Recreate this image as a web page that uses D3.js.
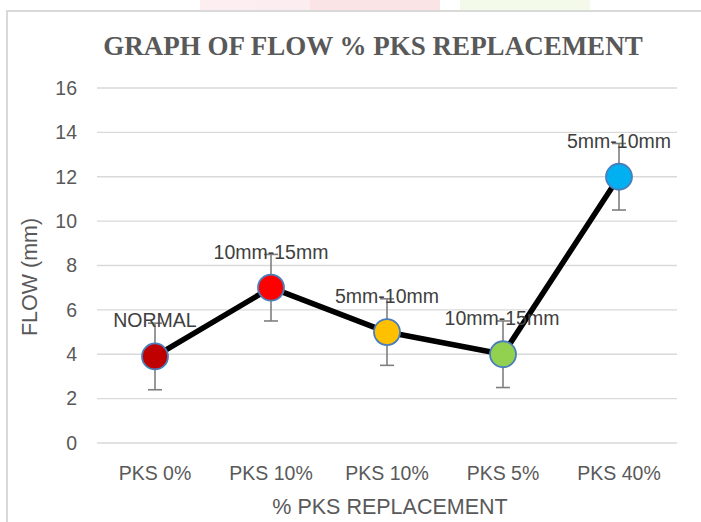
<!DOCTYPE html>
<html>
<head>
<meta charset="utf-8">
<script src="https://cdn.jsdelivr.net/npm/d3@7.9.0/dist/d3.min.js"></script>
<style>
  body { margin: 0; background: #fff; }
  svg { display: block; }
  text { font-family: "Liberation Sans", Arial, sans-serif; }
</style>
</head>
<body>
<svg width="701" height="522"></svg>
<script>
// chart data
const categories = ['PKS 0%', 'PKS 10%', 'PKS 10%', 'PKS 5%', 'PKS 40%'];
const flow = [3.9, 7, 5, 4, 12];
const errPlus = [1.5, 1.5, 1.5, 1.5, 1.5];
const errMinus = [1.5, 1.5, 1.5, 1.5, 1.5];
const pointLabels = ['NORMAL', '10mm-15mm', '5mm-10mm', '10mm-15mm', '5mm-10mm'];
const pointColors = ['#C00000', '#FF0000', '#FFC000', '#92D050', '#00B0F0'];
const yTicks = [0, 2, 4, 6, 8, 10, 12, 14, 16];

const labelFont = '"Liberation Sans", Arial, sans-serif';
const svg = d3.select('svg');

// faint watermark strip above the chart box
const wm = svg.append('g').attr('opacity', 0.3);
wm.append('rect').attr('x', 200).attr('y', 0).attr('width', 110).attr('height', 10).attr('fill', '#f7c9cf');
wm.append('rect').attr('x', 310).attr('y', 0).attr('width', 130).attr('height', 10).attr('fill', '#f2a7ae');
wm.append('rect').attr('x', 460).attr('y', 0).attr('width', 130).attr('height', 10).attr('fill', '#dcefb8');

// chart box border (top + left visible)
svg.append('path')
  .attr('d', 'M7,522 V11 H701')
  .attr('fill', 'none')
  .attr('stroke', '#d9d9d9')
  .attr('stroke-width', 2);

const margin = { left: 97, right: 24, top: 88, bottom: 79 };
const width = 701 - margin.left - margin.right;
const height = 522 - margin.top - margin.bottom;

const x = d3.scaleBand().domain(d3.range(categories.length)).range([margin.left, margin.left + width]);
const y = d3.scaleLinear().domain([0, 16]).range([margin.top + height, margin.top]);

// title
svg.append('text')
  .attr('x', 373).attr('y', 55)
  .attr('text-anchor', 'middle')
  .style('font-family', '"Liberation Serif", serif')
  .style('font-weight', 'bold')
  .style('font-size', '27px')
  .attr('fill', '#595959')
  .text('GRAPH OF FLOW % PKS REPLACEMENT');

// gridlines
svg.append('g')
  .selectAll('line')
  .data(yTicks)
  .join('line')
  .attr('x1', margin.left).attr('x2', margin.left + width)
  .attr('y1', d => y(d)).attr('y2', d => y(d))
  .attr('stroke', '#d9d9d9')
  .attr('stroke-width', 1.3);

// y axis
const yAxis = svg.append('g')
  .attr('transform', `translate(${margin.left},0)`)
  .call(d3.axisLeft(y).tickValues(yTicks).tickSize(0).tickPadding(20));
yAxis.select('.domain').remove();
yAxis.selectAll('text')
  .style('font-size', '19.5px')
  .style('font-family', labelFont)
  .attr('fill', '#595959');

// x axis
const xAxis = svg.append('g')
  .attr('transform', `translate(0,${margin.top + height})`)
  .call(d3.axisBottom(x).tickFormat(i => categories[i]).tickSize(0).tickPadding(23));
xAxis.select('.domain').remove();
xAxis.selectAll('text')
  .style('font-size', '19.5px')
  .style('font-family', labelFont)
  .attr('fill', '#595959');

// axis titles
svg.append('text')
  .attr('x', 390).attr('y', 514)
  .attr('text-anchor', 'middle')
  .style('font-size', '21.5px')
  .style('font-family', labelFont)
  .attr('fill', '#595959')
  .text('% PKS REPLACEMENT');

svg.append('text')
  .attr('transform', `translate(37,277) rotate(-90)`)
  .attr('text-anchor', 'middle')
  .style('font-size', '21.5px')
  .style('font-family', labelFont)
  .attr('fill', '#595959')
  .text('FLOW (mm)');

const cx = i => x(i) + x.bandwidth() / 2;

// error bars
const eb = svg.append('g').attr('stroke', '#7f7f7f').attr('stroke-width', 1.6);
flow.forEach((v, i) => {
  const top = y(v + errPlus[i]);
  const bot = y(v - errMinus[i]);
  eb.append('line').attr('x1', cx(i)).attr('x2', cx(i)).attr('y1', top).attr('y2', bot);
  eb.append('line').attr('x1', cx(i) - 7).attr('x2', cx(i) + 7).attr('y1', top).attr('y2', top);
  eb.append('line').attr('x1', cx(i) - 7).attr('x2', cx(i) + 7).attr('y1', bot).attr('y2', bot);
});

// line
const line = d3.line().x((d, i) => cx(i)).y(d => y(d));
svg.append('path')
  .datum(flow)
  .attr('d', line)
  .attr('fill', 'none')
  .attr('stroke', '#000')
  .attr('stroke-width', 5.5)
  .attr('stroke-linejoin', 'round');

// markers
svg.append('g')
  .selectAll('circle')
  .data(flow)
  .join('circle')
  .attr('cx', (d, i) => cx(i))
  .attr('cy', d => y(d))
  .attr('r', 13)
  .attr('fill', (d, i) => pointColors[i])
  .attr('stroke', '#4a7ebb')
  .attr('stroke-width', 1.8);

// data labels
svg.append('g')
  .selectAll('text')
  .data(flow)
  .join('text')
  .attr('x', (d, i) => cx(i) + (i === 3 ? -1 : 0))
  .attr('y', d => y(d) - 29)
  .attr('text-anchor', 'middle')
  .style('font-size', '19.5px')
  .style('font-family', labelFont)
  .attr('fill', '#404040')
  .text((d, i) => pointLabels[i]);
</script>
</body>
</html>
